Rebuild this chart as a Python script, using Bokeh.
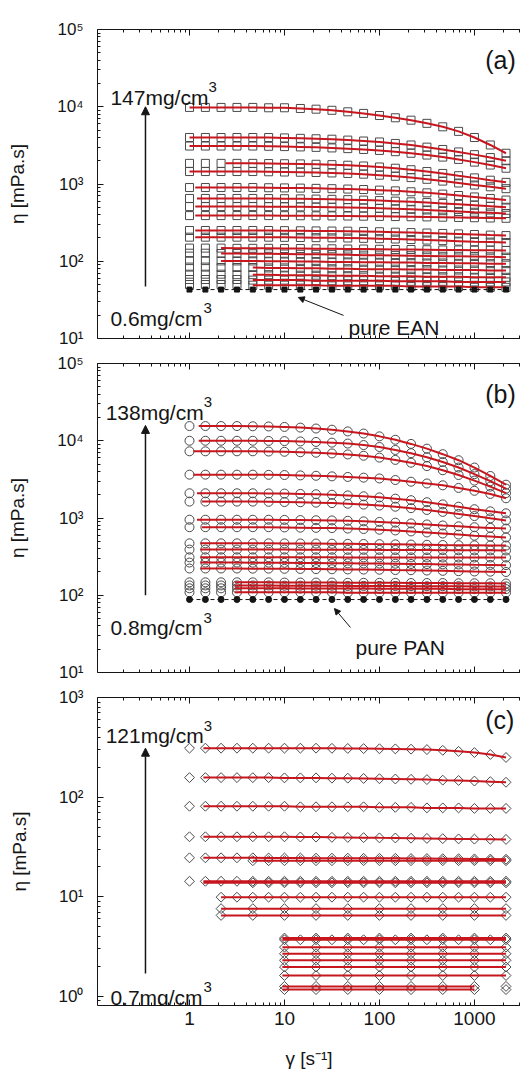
import numpy as np
from bokeh.plotting import figure
from bokeh.models import Range1d, LogAxis, FixedTicker, CustomJSTickFormatter, Label, Arrow, NormalHead
from bokeh.layouts import column
from bokeh.embed import file_html
from bokeh.resources import INLINE

# ---------------- data ----------------
RATE = [1.0, 1.47, 2.15, 3.16, 4.64, 6.81, 10.0, 14.7, 21.5, 31.6, 46.4,
        68.1, 100.0, 147.0, 215.0, 316.0, 464.0, 681.0, 1000.0, 1470.0, 2150.0]

# panel (a): EAN dispersions, 0.6 ... 147 mg/cm3
A_ETA = [
    [9800, 9800, 9800, 9800, 9800, 9700, 9700, 9500, 9300, 9000, 8600, 8200, 7700, 7200, 6700, 6100, 5500, 4800, 4000, 3200, 2500],
    [4000, 4000, 4000, 4000, 4000, 4000, 3950, 3900, 3850, 3800, 3700, 3600, 3500, 3350, 3200, 3000, 2800, 2600, 2400, 2200, 2000],
    [3100, 3100, 3100, 3100, 3100, 3080, 3050, 3020, 2980, 2930, 2870, 2800, 2720, 2620, 2500, 2370, 2230, 2080, 1920, 1760, 1600],
    [1850, 1850, 1850, 1850, 1850, 1840, 1830, 1820, 1800, 1780, 1750, 1710, 1660, 1600, 1530, 1450, 1370, 1280, 1200, 1120, 1050],
    [1450, 1450, 1450, 1450, 1450, 1440, 1430, 1420, 1410, 1390, 1370, 1340, 1300, 1260, 1210, 1150, 1090, 1030, 970, 920, 870],
    [900, 900, 900, 900, 900, 895, 890, 885, 878, 870, 860, 848, 833, 815, 793, 768, 740, 710, 680, 650, 620],
    [650, 650, 650, 650, 650, 648, 645, 642, 638, 633, 627, 619, 610, 600, 588, 575, 560, 545, 530, 515, 500],
    [510, 510, 510, 510, 510, 509, 508, 506, 503, 500, 496, 491, 485, 478, 470, 461, 451, 441, 431, 423, 415],
    [390, 390, 390, 390, 390, 390, 389, 388, 387, 386, 385, 383, 381, 379, 377, 375, 372, 369, 366, 363, 360],
    [250, 250, 250, 250, 250, 250, 249, 248, 247, 246, 245, 243, 241, 238, 235, 232, 229, 226, 222, 218, 215],
    [205, 205, 205, 205, 205, 205, 204, 203, 202, 201, 200, 198, 196, 194, 191, 188, 185, 182, 179, 177, 175],
    [148, 148, 148, 147, 147, 147, 146, 146, 145, 145, 144, 144, 143, 142, 142, 141, 140, 140, 139, 139, 138],
    [127, 127, 126, 126, 125, 125, 124, 123, 123, 122, 121, 120, 120, 119, 118, 117, 116, 116, 115, 114, 113],
    [102, 102, 101, 101, 101, 100, 100, 99, 99, 98, 98, 97, 97, 96, 96, 95, 95, 94, 94, 93, 93],
    [84, 84, 83, 83, 83, 82, 82, 81, 81, 80, 80, 79, 79, 79, 78, 78, 77, 77, 77, 76, 76],
    [68, 68, 68, 67, 67, 67, 66, 66, 66, 65, 65, 65, 64, 64, 64, 63, 63, 63, 62, 62, 62],
    [58, 58, 58, 58, 57, 57, 57, 57, 56, 56, 56, 56, 56, 55, 55, 55, 55, 54, 54, 54, 54],
    [50, 50, 50, 50, 49, 49, 49, 49, 49, 48, 48, 48, 48, 48, 47, 47, 47, 47, 46, 46, 46],
]
A_FIT_FROM = [1.0, 1.0, 1.0, 2.4, 1.0, 1.15, 1.2, 1.15, 1.15, 1.15, 1.15, 2.15, 2.15, 2.15, 4.64, 4.64, 4.64, 4.64]
A_PURE = [43, 43, 43, 43, 43, 43, 43, 43, 43, 43, 43, 43, 43, 43, 43, 43, 43, 43, 43, 43, 43]

# panel (b): PAN dispersions, 0.8 ... 138 mg/cm3
B_ETA = [
    [15500, 15500, 15500, 15500, 15400, 15300, 15100, 14800, 14400, 13900, 13200, 12400, 11400, 10300, 9100, 7900, 6700, 5600, 4500, 3500, 2700],
    [10000, 10000, 10000, 10000, 10000, 9950, 9900, 9800, 9650, 9450, 9200, 8800, 8300, 7600, 6900, 6100, 5300, 4500, 3700, 3000, 2400],
    [7300, 7300, 7300, 7300, 7300, 7250, 7200, 7100, 7000, 6850, 6650, 6400, 6050, 5650, 5200, 4700, 4150, 3600, 3050, 2550, 2100],
    [3640, 3640, 3640, 3640, 3640, 3620, 3600, 3560, 3520, 3460, 3400, 3330, 3250, 3100, 2950, 2800, 2650, 2450, 2250, 2050, 1800],
    [2090, 2090, 2090, 2090, 2090, 2080, 2070, 2050, 2030, 2000, 1960, 1910, 1850, 1780, 1700, 1600, 1500, 1400, 1300, 1220, 1150],
    [1630, 1630, 1630, 1630, 1630, 1620, 1610, 1600, 1580, 1560, 1530, 1490, 1450, 1400, 1340, 1270, 1200, 1130, 1060, 990, 930],
    [950, 950, 950, 950, 950, 950, 945, 940, 935, 930, 920, 905, 890, 870, 850, 825, 800, 780, 760, 745, 730],
    [760, 760, 760, 760, 760, 760, 755, 750, 745, 740, 730, 720, 705, 690, 670, 650, 630, 610, 590, 575, 560],
    [470, 470, 470, 470, 470, 470, 469, 468, 467, 465, 463, 461, 459, 456, 453, 450, 447, 445, 443, 441, 440],
    [390, 390, 390, 390, 390, 390, 390, 389, 389, 388, 387, 387, 386, 385, 384, 384, 383, 382, 381, 381, 380],
    [310, 310, 310, 310, 310, 310, 310, 310, 310, 310, 309, 309, 309, 309, 309, 308, 308, 308, 308, 308, 308],
    [265, 265, 265, 265, 264, 264, 263, 262, 261, 260, 259, 258, 257, 256, 254, 253, 251, 250, 248, 247, 245],
    [222, 222, 222, 222, 221, 221, 220, 219, 218, 217, 216, 215, 214, 212, 211, 209, 207, 205, 203, 202, 200],
    [147, 147, 147, 147, 147, 147, 146, 146, 146, 146, 145, 145, 145, 145, 144, 144, 144, 143, 143, 143, 142],
    [134, 134, 134, 134, 134, 134, 133, 133, 133, 133, 132, 132, 132, 132, 131, 131, 131, 131, 130, 130, 130],
    [123, 123, 123, 123, 123, 123, 123, 122, 122, 122, 122, 122, 121, 121, 121, 121, 121, 120, 120, 120, 120],
    [109, 109, 109, 109, 109, 109, 109, 109, 109, 109, 108, 108, 108, 108, 108, 108, 108, 108, 108, 108, 108],
]
B_FIT_FROM = [1.25, 1.25, 1.1, 1.1, 1.2, 1.35, 1.2, 1.35, 1.3, 1.3, 1.3, 1.3, 1.3, 3.0, 3.0, 3.0, 3.0]
B_PURE = [88, 88, 88, 88, 88, 88, 88, 88, 88, 88, 88, 88, 88, 88, 88, 88, 88, 88, 88, 88, 88]

# panel (c): 0.7 ... 121 mg/cm3
C_ETA = [
    [310, 310, 310, 310, 310, 310, 310, 310, 310, 309, 308, 307, 306, 305, 303, 300, 295, 288, 280, 268, 250],
    [157, 157, 157, 157, 157, 157, 156, 156, 156, 155, 155, 154, 153, 152, 151, 150, 148, 147, 145, 143, 141],
    [81, 81, 81, 81, 81, 81, 81, 80, 80, 80, 80, 80, 79, 79, 79, 78, 78, 78, 77, 77, 77],
    [40, 40, 40, 40, 40, 40, 40, 39.8, 39.7, 39.5, 39.4, 39.2, 39.0, 38.9, 38.7, 38.5, 38.3, 38.1, 37.9, 37.8, 37.6],
    [24.6, 24.6, 24.6, 24.6, 24.6, 24.5, 24.5, 24.5, 24.4, 24.4, 24.4, 24.3, 24.3, 24.3, 24.2, 24.2, 24.1, 24.1, 24.0, 23.9, 23.8],
    [23.0, 23.0, 23.0, 23.0, 23.0, 23.0, 23.0, 23.0, 23.0, 23.0, 23.0, 23.0, 23.0, 23.0, 23.0, 23.0, 23.0, 23.0, 23.0, 23.0, 23.0],
    [14.3, 14.3, 14.3, 14.3, 14.3, 14.3, 14.3, 14.3, 14.3, 14.3, 14.3, 14.3, 14.3, 14.3, 14.3, 14.3, 14.3, 14.3, 14.3, 14.3, 14.3],
    [13.8, 13.8, 13.8, 13.8, 13.8, 13.8, 13.8, 13.8, 13.8, 13.8, 13.8, 13.8, 13.8, 13.8, 13.8, 13.8, 13.8, 13.8, 13.8, 13.8, 13.8],
    [9.9, 9.9, 9.9, 9.9, 9.9, 9.9, 9.9, 9.9, 9.9, 9.9, 9.9, 9.9, 9.9, 9.9, 9.9, 9.9, 9.9, 9.9, 9.9, 9.9, 9.9],
    [7.6, 7.6, 7.6, 7.6, 7.6, 7.6, 7.6, 7.6, 7.6, 7.6, 7.6, 7.6, 7.6, 7.6, 7.6, 7.6, 7.6, 7.6, 7.6, 7.6, 7.6],
    [6.5, 6.5, 6.5, 6.5, 6.5, 6.5, 6.5, 6.5, 6.5, 6.5, 6.5, 6.5, 6.5, 6.5, 6.5, 6.5, 6.5, 6.5, 6.5, 6.5, 6.5],
    [3.85, 3.85, 3.85, 3.85, 3.85, 3.85, 3.85, 3.85, 3.85, 3.85, 3.85, 3.85, 3.85, 3.85, 3.85, 3.85, 3.85, 3.85, 3.85, 3.85, 3.85],
    [3.70, 3.70, 3.70, 3.70, 3.70, 3.70, 3.70, 3.70, 3.70, 3.70, 3.70, 3.70, 3.70, 3.70, 3.70, 3.70, 3.70, 3.70, 3.70, 3.70, 3.70],
    [3.12, 3.12, 3.12, 3.12, 3.12, 3.12, 3.12, 3.12, 3.12, 3.12, 3.12, 3.12, 3.12, 3.12, 3.12, 3.12, 3.12, 3.12, 3.12, 3.12, 3.12],
    [2.68, 2.68, 2.68, 2.68, 2.68, 2.68, 2.68, 2.68, 2.68, 2.68, 2.68, 2.68, 2.68, 2.68, 2.68, 2.68, 2.68, 2.68, 2.68, 2.68, 2.68],
    [2.30, 2.30, 2.30, 2.30, 2.30, 2.30, 2.30, 2.30, 2.30, 2.30, 2.30, 2.30, 2.30, 2.30, 2.30, 2.30, 2.30, 2.30, 2.30, 2.30, 2.30],
    [1.97, 1.97, 1.97, 1.97, 1.97, 1.97, 1.97, 1.97, 1.97, 1.97, 1.97, 1.97, 1.97, 1.97, 1.97, 1.97, 1.97, 1.97, 1.97, 1.97, 1.97],
    [1.62, 1.62, 1.62, 1.62, 1.62, 1.62, 1.62, 1.62, 1.62, 1.62, 1.62, 1.62, 1.62, 1.62, 1.62, 1.62, 1.62, 1.62, 1.62, 1.62, 1.62],
    [1.26, 1.26, 1.26, 1.26, 1.26, 1.26, 1.26, 1.26, 1.26, 1.26, 1.26, 1.26, 1.26, 1.26, 1.26, 1.26, 1.26, 1.26, 1.26, 1.26, 1.26],
    [1.17, 1.17, 1.17, 1.17, 1.17, 1.17, 1.17, 1.17, 1.17, 1.17, 1.17, 1.17, 1.17, 1.17, 1.17, 1.17, 1.17, 1.17, 1.17, 1.17, 1.17],
]
C_MARK_FROM = [0, 0, 0, 0, 0, 4, 0, 4, 2, 2, 2, 6, 6, 6, 6, 6, 6, 6, 6, 6]
C_MARK_STEP = [1, 1, 1, 1, 1, 1, 1, 1, 1, 2, 2, 2, 1, 2, 2, 2, 2, 2, 2, 2]
C_FIT_FROM = [1.4, 1.4, 1.4, 1.4, 1.4, 4.64, 1.4, 1.4, 2.15, 2.15, 2.15, 9.5, 9.5, 9.5, 9.5, 9.5, 9.5, 9.5, 9.5, 9.5]
C_FIT_TO = [2150, 2150, 2150, 2150, 2150, 2150, 2150, 2150, 2150, 2150, 2150, 2150, 2150, 2150, 2150, 2150, 2150, 2150, 1000, 1000]

CONC_TEXT = [("147mg/cm", "0.6mg/cm"), ("138mg/cm", "0.8mg/cm"), ("121mg/cm", "0.7mg/cm")]
CONC_EXP = "3"
PANEL_TEXT = ["(a)", "(b)", "(c)"]
PURE_TEXT = ["pure EAN", "pure PAN"]

# ---------------- styling ----------------
FONT = "Liberation Sans"
INK = "#151515"
RED = "#c8161e"
EDGE = "#4a4a4a"
X_LO, X_HI = 0.1075, 3055

SUP_JS = """
const sup = {'0':'\u2070','1':'\u00b9','2':'\u00b2','3':'\u00b3','4':'\u2074','5':'\u2075',
             '6':'\u2076','7':'\u2077','8':'\u2078','9':'\u2079','-':'\u207b'};
const e = Math.round(Math.log10(tick));
return '10' + String(e).split('').map(c => sup[c]).join('');
"""


def y_ticker(e0, e1):
    major = [10.0 ** e for e in range(e0, e1 + 1)]
    minor = [m * 10.0 ** e for e in range(e0 - 1, e1 + 1) for m in range(2, 10)]
    return FixedTicker(ticks=major, minor_ticks=minor)


def x_ticker():
    major = [1, 10, 100, 1000]
    minor = [m * 10.0 ** e for e in range(-1, 4) for m in range(2, 10)]
    return FixedTicker(ticks=major, minor_ticks=minor)


def style_axis(ax):
    ax.axis_line_color = INK
    ax.axis_line_width = 1
    ax.major_tick_in = 6
    ax.major_tick_out = 0
    ax.minor_tick_in = 3
    ax.minor_tick_out = 0
    ax.major_tick_line_color = INK
    ax.minor_tick_line_color = INK
    ax.major_label_text_font = FONT
    ax.major_label_text_color = INK
    ax.axis_label_text_font = FONT
    ax.axis_label_text_font_style = "normal"
    ax.axis_label_text_color = INK


def hide_labels(ax):
    ax.major_label_text_font_size = "0px"
    ax.major_label_standoff = 0
    ax.formatter = CustomJSTickFormatter(code="return '';")


def make_fig(height, top, bottom, ylo, yhi, e0, e1, x_labels):
    p = figure(width=520, height=height, x_axis_type="log", y_axis_type="log",
               x_range=Range1d(X_LO, X_HI), y_range=Range1d(ylo, yhi),
               output_backend="svg", toolbar_location=None,
               min_border_left=97, min_border_right=0,
               min_border_top=top, min_border_bottom=bottom)
    p.outline_line_color = None
    p.grid.visible = False
    ya = p.yaxis[0]
    ya.ticker = y_ticker(e0, e1)
    ya.formatter = CustomJSTickFormatter(code=SUP_JS)
    style_axis(ya)
    ya.major_label_text_font_size = "17px"
    ya.major_label_standoff = 14
    ya.axis_label = "η [mPa.s]"
    ya.axis_label_text_font_size = "19px"
    ya.axis_label_standoff = 26
    xa = p.xaxis[0]
    xa.ticker = x_ticker()
    style_axis(xa)
    if x_labels:
        xa.formatter = CustomJSTickFormatter(code="return String(Math.round(tick));")
        xa.major_label_text_font_size = "19px"
        xa.major_label_standoff = 6
        xa.axis_label = "γ [s⁻¹]"
        xa.axis_label_text_font_size = "19px"
        xa.axis_label_standoff = 20
    else:
        hide_labels(xa)
    ta = LogAxis(ticker=x_ticker())
    style_axis(ta)
    hide_labels(ta)
    p.add_layout(ta, "above")
    return p


def draw_rows(p, eta, mark_from, mark_step, fit_from, fit_to, marker, size, angle=0.0):
    mx, my = [], []
    for i, row in enumerate(eta):
        for k in range(mark_from[i], len(RATE), mark_step[i]):
            mx.append(RATE[k])
            my.append(row[k])
    p.scatter(mx, my, marker=marker, size=size, angle=angle, fill_color=None,
              line_color=EDGE, line_width=1)
    lx = np.log10(RATE)
    fxs, fys = [], []
    for i, row in enumerate(eta):
        fs, fe = fit_from[i], fit_to[i]
        y0 = 10 ** np.interp(np.log10(fs), lx, np.log10(row))
        xs, ys = [fs], [float(y0)]
        for k, r in enumerate(RATE):
            if fs * 1.001 < r <= fe * 1.001:
                xs.append(r)
                ys.append(row[k])
        fxs.append(xs)
        fys.append(ys)
    p.multi_line(fxs, fys, line_color=RED, line_width=2)


def draw_pure(p, vals, marker, size):
    p.line(RATE, vals, line_color=INK, line_width=1, line_dash="4 3")
    p.scatter(RATE, vals, marker=marker, size=size, fill_color=INK, line_color=INK)


def text(p, x, y, s, size="21px", align="left", dx=0, dy=0):
    p.add_layout(Label(x=x, y=y, text=s, text_font=FONT, text_font_size=size,
                       text_color=INK, text_align=align, text_baseline="alphabetic",
                       x_offset=dx, y_offset=dy))


def conc(p, x, y, s, w):
    text(p, x, y, s)
    text(p, x, y, CONC_EXP, size="15px", dx=w, dy=10)


def arrow(p, x0, y0, x1, y1, head=8, lw=1.5):
    p.add_layout(Arrow(end=NormalHead(size=head, fill_color=INK, line_color=INK, line_width=1),
                       x_start=x0, y_start=y0, x_end=x1, y_end=y1,
                       line_color=INK, line_width=lw))


# ---------------- panel (a) ----------------
pa = make_fig(350, 29, 12, 10, 1e5, 1, 5, False)
n = len(A_ETA)
draw_rows(pa, A_ETA, [0] * n, [1] * n, A_FIT_FROM, [2150] * n, "square", 8)
draw_pure(pa, A_PURE, "square", 5)
arrow(pa, 0.344, 47, 0.344, 10000)
conc(pa, 0.147, 13200, CONC_TEXT[0][0], 98)
conc(pa, 0.147, 18.2, CONC_TEXT[0][1], 93)
arrow(pa, 41.9, 19.9, 14.0, 34.0, head=6, lw=1)
text(pa, 47.2, 14.0, PURE_TEXT[0])
text(pa, 1300, 40500, PANEL_TEXT[0], size="25px")

# ---------------- panel (b) ----------------
pb = make_fig(334, 13, 12, 10, 1e5, 1, 5, False)
n = len(B_ETA)
draw_rows(pb, B_ETA, [0] * n, [1] * n, B_FIT_FROM, [2150] * n, "circle", 9)
draw_pure(pb, B_PURE, "circle", 6)
arrow(pb, 0.344, 100, 0.344, 15800)
conc(pb, 0.131, 23300, CONC_TEXT[1][0], 98)
conc(pb, 0.147, 37.9, CONC_TEXT[1][1], 93)
arrow(pb, 49.5, 38.3, 33.6, 67.3, head=6, lw=1)
text(pb, 55.9, 21.1, PURE_TEXT[1])
text(pb, 1300, 40500, PANEL_TEXT[1], size="25px")

# ---------------- panel (c) ----------------
pc = make_fig(387, 13, 66, 0.81, 1000, 0, 3, True)
draw_rows(pc, C_ETA, C_MARK_FROM, C_MARK_STEP, C_FIT_FROM, C_FIT_TO, "square", 7, angle=np.pi / 4)
arrow(pc, 0.344, 1.70, 0.344, 310)
conc(pc, 0.131, 415, CONC_TEXT[2][0], 98)
conc(pc, 0.147, 0.977, CONC_TEXT[2][1], 93)
text(pc, 1300, 600, PANEL_TEXT[2], size="25px")

layout = column(pa, pb, pc, spacing=0)
open("out.html", "w").write(file_html(layout, INLINE))
